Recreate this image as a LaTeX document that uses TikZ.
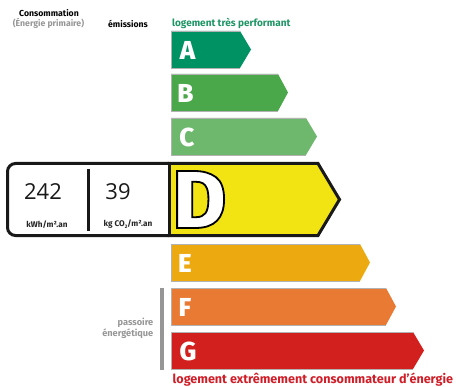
\documentclass[tikz,border=0pt]{standalone}
\usepackage{fontspec}
\setmainfont{Fira Sans}
\newfontfamily\numfont{Open Sans}
\newfontfamily\outlinefont[FakeBold=2.2]{Fira Sans ExtraBold}
\newfontfamily\letterfont{Fira Sans ExtraBold}
\definecolor{cA}{RGB}{0,146,98}
\definecolor{cB}{RGB}{74,167,74}
\definecolor{cC}{RGB}{110,184,110}
\definecolor{cD}{RGB}{242,227,18}
\definecolor{cE}{RGB}{236,170,16}
\definecolor{cF}{RGB}{232,122,52}
\definecolor{cG}{RGB}{210,32,30}
\definecolor{greenT}{RGB}{30,150,100}
\definecolor{redT}{RGB}{208,30,40}
\definecolor{greyT}{RGB}{150,150,150}
\newcommand{\classbar}[5]{% colour, top, bottom, body end, tip
  \fill[#1] (171,#2) -- (#4,#2) -- (#5,{(#2+#3)/2}) -- (#4,#3) -- (171,#3) -- cycle;
  \draw[barEdge] (#4,#2) -- (171,#2) -- (171,#3) -- (#4,#3);
}
\tikzset{
  barEdge/.style={draw=black!30,line width=0.5pt},
  letter/.style={font=\fontsize{26}{26}\selectfont\letterfont,text=white,anchor=center,inner sep=0pt},
  head/.style={font=\fontsize{8.7}{9}\selectfont\bfseries,inner sep=0pt,anchor=center},
  unitlab/.style={font=\fontsize{8.2}{9}\selectfont\bfseries,inner sep=0pt,anchor=center,text=black!85},
  value/.style={font=\fontsize{22}{22}\selectfont\numfont,inner sep=0pt,anchor=center,text=black!90},
  heavy/.style={draw=black!90,line width=3pt,line join=miter},
  bigtext/.style={font=\fontsize{12.6}{13}\selectfont\bfseries,inner sep=0pt,anchor=west},
}
\begin{document}
\begin{tikzpicture}[x=1pt,y=-1pt]
\useasboundingbox (0,0) rectangle (457,387);
\classbar{cA}{31}{68}{240}{251}
\classbar{cB}{74}{111}{278}{288}
\classbar{cC}{118}{155}{306}{317}
\classbar{cE}{244}{281}{360}{370}
\classbar{cF}{288}{325}{386}{396}
\classbar{cG}{332}{369}{413}{424}
\node[letter] (la) at (187.5,50.5) {A};
\node[letter] (lb) at (185.5,93) {B};
\node[letter] (lc) at (187,137) {C};
\node[letter] (le) at (185,263) {E};
\node[letter] (lf) at (185,307) {F};
\node[letter] (lg) at (188,351) {G};
% D band
\draw[heavy,fill=cD] (169,163.5) -- (318,163.5) -- (339.5,199.5) -- (318,235.5) -- (169,235.5) -- cycle;
\draw[heavy,fill=white,rounded corners=8pt] (169,163.5) -- (7.5,163.5) -- (7.5,235.5) -- (169,235.5);
\draw[heavy] (169,163.5) -- (169,235.5);
\draw[draw=black!90,line width=3pt] (88,169) -- (88,231);
\node[inner sep=0pt,anchor=center] (ld) at (199.5,199.5) {\special{pdf:bcolor [1 1 1] [0 0 0]}\fontsize{82}{82}\selectfont\outlinefont D\special{pdf:ecolor}};
\node[value] (v1) at (43,191.5) {242};
\node[value] (v2) at (118,191.5) {39};
\node[unitlab] (u1) at (47,224.5) {kWh/m².an};
\node[unitlab] (u2) at (128,224.5) {kg CO\raisebox{-1.5pt}{\fontsize{5}{5}\selectfont 2}/m².an};
% headings
\node[head] (h1) at (49,13.5) {Consommation};
\node[head,text=greyT] (h2) at (48.5,23.5) {(Énergie primaire)};
\node[head] (h3) at (128,23.5) {émissions};
\node[font=\fontsize{10}{10}\selectfont\bfseries,text=greenT,inner sep=0pt,anchor=west] (top) at (172,23.5) {logement très performant};
\node[bigtext,text=redT] (bot) at (172.5,380) {logement extrêmement consommateur d’énergie};
% passoire
\fill[greyT] (160,288) rectangle (164,370);
\node[head,text=greyT,align=right,anchor=east,font=\fontsize{9.2}{11}\selectfont\bfseries] (pa) at (153.5,328.5) {passoire\\énergétique};
\end{tikzpicture}
\end{document}
